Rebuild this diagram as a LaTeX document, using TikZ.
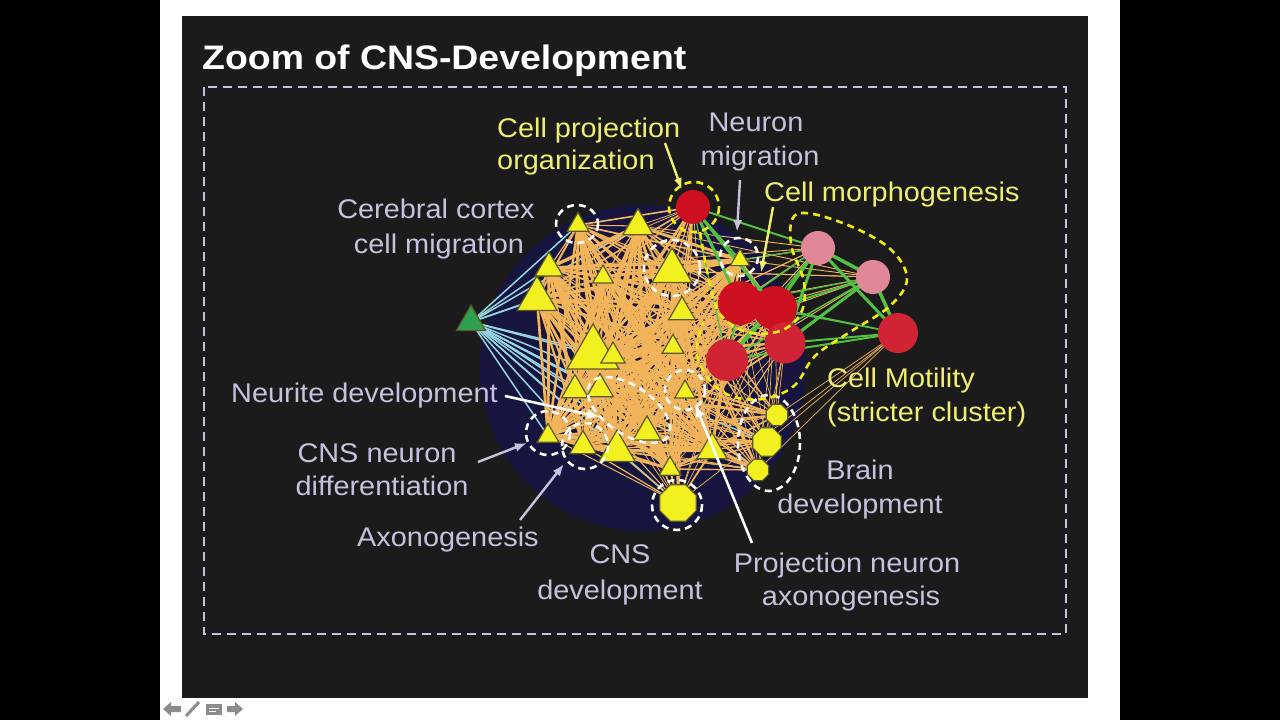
\documentclass[tikz,border=0pt]{standalone}
\usepackage{fontspec}
\setmainfont{Liberation Sans}
\newfontfamily\labfont[FakeStretch=1.07]{Liberation Sans}
\newfontfamily\titfont[FakeStretch=1.1]{Liberation Sans}
\usetikzlibrary{shapes.geometric,arrows.meta}
\pgfdeclarelayer{bg}
\pgfdeclarelayer{edges}
\pgfsetlayers{bg,edges,main}
\definecolor{cSlide}{HTML}{1B1B1B}
\definecolor{cBlob}{HTML}{15153F}
\definecolor{cLav}{HTML}{C6C2DE}
\definecolor{cYel}{HTML}{EEEE70}
\definecolor{cDashY}{HTML}{F2EA10}
\definecolor{cNodeY}{HTML}{F2F020}
\definecolor{cNodeE}{HTML}{5A5A28}
\definecolor{cOr}{HTML}{F2B45A}
\definecolor{cCy}{HTML}{96D6E2}
\definecolor{cGr}{HTML}{52C040}
\definecolor{cRed}{HTML}{CC1020}
\definecolor{cRedB}{HTML}{D02434}
\definecolor{cPink}{HTML}{E08898}
\definecolor{cGtri}{HTML}{2FA050}
\definecolor{cIcon}{HTML}{8C8C8C}
\begin{document}
\begin{tikzpicture}[x=1pt,y=-1pt,
  tri/.style={regular polygon,regular polygon sides=3,fill=cNodeY,draw=cNodeE,line width=1.2pt,inner sep=0pt,minimum size={1.4*#1}},
  octo/.style={regular polygon,regular polygon sides=8,fill=cNodeY,draw=cNodeE,line width=1.2pt,inner sep=0pt,minimum size={1.1*#1}},
  rdisc/.style={circle,fill=#1,inner sep=0pt},
  oedge/.style={draw=cOr},
  cedge/.style={draw=cCy,line width=1.5pt},
  gedge/.style={draw=cGr},
  wdash/.style={draw=white,line width=2.6pt,dash pattern=on 7pt off 5pt},
  ydash/.style={draw=cDashY,line width=2.6pt,dash pattern=on 7pt off 5pt},
  labl/.style={font=\labfont\fontsize{27}{33}\selectfont,text=cLav,inner sep=0pt},
  laby/.style={font=\labfont\fontsize{27}{33}\selectfont,text=cYel,inner sep=0pt},
  larrow/.style={draw=cLav,line width=2.4pt,-{Latex[length=12pt,width=9pt]}},
  yarrow/.style={draw=cYel,line width=2.4pt,-{Latex[length=12pt,width=8pt]}},
  warrow/.style={draw=white,line width=2.6pt,-{Latex[length=13pt,width=10pt]}}
]
\useasboundingbox (0,0) rectangle (1280,720);
\begin{pgfonlayer}{bg}
\fill[black] (0,0) rectangle (1280,720);
\fill[white] (160,0) rectangle (1120,720);
\fill[cSlide] (182,16) rectangle (1088,698);
\draw[cLav,line width=2.5pt,dash pattern=on 9pt off 6pt] (204,87) rectangle (1066,634);
\fill[cBlob] (643,368) circle[radius=163];
% navigation icons
\fill[cIcon] (163,709) -- (171,702) -- (171,706) -- (181,706) -- (181,712) -- (171,712) -- (171,716) -- cycle;
\draw[cIcon,line width=3pt] (186,716) -- (199,702);
\fill[cIcon] (206,704) rectangle (222,715);
\draw[white,line width=1pt] (209,708) -- (219,708) (209,711) -- (216,711);
\fill[cIcon] (243,709) -- (235,702) -- (235,706) -- (227,706) -- (227,712) -- (235,712) -- (235,716) -- cycle;
\end{pgfonlayer}

\node[anchor=base west,inner sep=0pt,text=white,font=\titfont\bfseries\fontsize{34}{40}\selectfont] (title) at (202,69) {Zoom of CNS-Development};

% nodes
\node[tri=24,fill=cGtri] (g) at (471,322) {};
\foreach \n/\x/\y/\w in {t1/578/225/18,t2/638/226/25,t3/549/268/23,t4/603/277/17,t5/672/271/33,
  t6/537/299/33,t7/682/312/22,t8/593/354/43,t9/613/356/20,t10/673/347/18,t11/575/390/22,
  t12/600/389/22,t13/685/392/17,t14/548/436/18,t15/583/446/22,t16/617/451/30,t17/647/432/23,
  t18/712/450/25,t19/670/469/18,t20/740/260/16}
  \node[tri=\w] (\n) at (\x,\y) {};
\foreach \n/\x/\y/\w in {o1/678/503/36,o2/767/442/28,o3/777/415/21,o4/758/470/21}
  \node[octo=\w] (\n) at (\x,\y) {};
\node[rdisc=cRed,minimum size=34pt] (r1) at (693,207) {};
\node[rdisc=cRed,minimum size=44pt] (r3) at (775,308) {};
\node[rdisc=cRed,minimum size=44pt] (r2) at (740,303) {};
\node[rdisc=cRedB,minimum size=41pt] (r4) at (785,343) {};
\node[rdisc=cRedB,minimum size=42pt] (r5) at (727,360) {};
\node[rdisc=cRedB,minimum size=40pt] (r6) at (898,333) {};
\node[rdisc=cPink,minimum size=34pt] (p1) at (818,248) {};
\node[rdisc=cPink,minimum size=34pt] (p2) at (873,277) {};

% edges
\begin{pgfonlayer}{edges}
\pgfmathsetseed{7}
\foreach \t in {t1,t3,t6,t8,t11,t12,t14,t15,t16,t17,t19,o1,o2,o4,t4,t9,t2,t18}
  \draw[cedge] (g.center) -- (\t.center);
\foreach \r in {r1,r2,r3,r4,r5}{
  \foreach \k in {1,...,20}{
    \pgfmathsetmacro\lw{0.6+1.2*rnd}
    \draw[oedge,line width=\lw pt] (\r.center) -- (t\k.center);}}
\foreach \o in {o1,o2,o3,o4}{
  \foreach \k in {5,7,8,9,10,11,12,13,14,15,16,17,18,19}{
    \pgfmathsetmacro\lw{0.7+1.3*rnd}
    \draw[oedge,line width=\lw pt] (\o.center) -- (t\k.center);}
  \foreach \r in {r2,r3,r4,r5,r6}
    \draw[oedge,line width=0.7pt] (\o.center) -- (\r.center);}
\foreach \p in {p1,p2}{
  \foreach \t in {t2,t5,t7,t10,t13,t20,t3,t8}
    \draw[oedge,line width=0.9pt] (\p.center) -- (\t.center);}
\foreach \i in {1,...,20}{
  \foreach \j in {1,...,20}{
    \ifnum\i<\j
      \pgfmathsetmacro\lw{1.0+2.4*rnd}
      \draw[oedge,line width=\lw pt] (t\i.center) -- (t\j.center);
    \fi}}
\foreach \a/\b/\w in {r1/r2/3,r1/r3/3,r1/p1/2,r1/t20/1.5,r2/p1/1.5,r3/p1/3,r3/p2/2,r4/p1/3,
  r4/p2/3,r4/r6/2,r3/r6/1.5,r2/r6/1.2,p1/p2/3.5,p1/r6/3,p2/r6/3.5,r5/r3/3,r5/r2/2,r5/p1/1.5,
  r5/r6/2,r2/p2/1.2,r1/r5/1.2,t20/p1/1.2,r5/p2/1.5}
  \draw[gedge,line width=\w pt] (\a.center) -- (\b.center);
\end{pgfonlayer}

% dashed groupings
\draw[wdash] (577,224) ellipse[x radius=21,y radius=19];
\draw[wdash] (672,268) circle[radius=28];
\draw[wdash] (739,257) circle[radius=19];
\draw[wdash] (685,390) circle[radius=20];
\draw[wdash,rotate around={-34:(629,410)}] (629,410) ellipse[x radius=47,y radius=24];
\draw[wdash] (548,433) circle[radius=22];
\draw[wdash] (585,446) circle[radius=23];
\draw[wdash] (677,505) circle[radius=25];
\draw[wdash] (769,443) ellipse[x radius=31,y radius=48];
\draw[ydash] (694,207) circle[radius=25];
\draw[ydash] plot[smooth,tension=0.6] coordinates {(700,232) (709,280) (720,314) (747,332) (780,331) (801,313) (804,282) (791,244) (797,214) (840,222) (888,247) (907,278) (890,306) (850,332) (815,356) (795,385) (768,398) (738,398) (714,385) (697,355) (703,322)};

% labels
\node[laby,anchor=base west] (lcp1) at (497,137) {Cell projection};
\node[laby,anchor=base west] (lcp2) at (497,169) {organization};
\node[labl,anchor=base] (lnm1) at (756,131) {Neuron};
\node[labl,anchor=base] (lnm2) at (760,165) {migration};
\node[laby,anchor=base west] (lcm) at (764,201) {Cell morphogenesis};
\node[labl,anchor=base] (lcc1) at (436,218) {Cerebral cortex};
\node[labl,anchor=base] (lcc2) at (439,253) {cell migration};
\node[labl,anchor=base west] (lnd) at (231,402) {Neurite development};
\node[labl,anchor=base] (lcn1) at (377,462) {CNS neuron};
\node[labl,anchor=base] (lcn2) at (382,495) {differentiation};
\node[labl,anchor=base west] (lax) at (357,546) {Axonogenesis};
\node[labl,anchor=base] (lcd1) at (620,563) {CNS};
\node[labl,anchor=base] (lcd2) at (620,599) {development};
\node[labl,anchor=base] (lpn1) at (847,572) {Projection neuron};
\node[labl,anchor=base] (lpn2) at (851,605) {axonogenesis};
\node[labl,anchor=base] (lbd1) at (860,479) {Brain};
\node[labl,anchor=base] (lbd2) at (860,513) {development};
\node[laby,anchor=base west] (lmo1) at (827,387) {Cell Motility};
\node[laby,anchor=base west] (lmo2) at (827,421) {(stricter cluster)};

% arrows
\coordinate (aCPs) at (665,143); \coordinate (aCPe) at (682,190);
\coordinate (aNMs) at (740,180); \coordinate (aNMe) at (737,232);
\coordinate (aCMs) at (773,207); \coordinate (aCMe) at (761,273);
\coordinate (aNDs) at (505,396); \coordinate (aNDe) at (600,417);
\coordinate (aCNs) at (478,462); \coordinate (aCNe) at (527,443);
\coordinate (aAXs) at (520,520); \coordinate (aAXe) at (564,464);
\coordinate (aPNs) at (752,543); \coordinate (aPNe) at (695,404);
\draw[yarrow] (aCPs) -- (aCPe);
\draw[larrow] (aNMs) -- (aNMe);
\draw[yarrow] (aCMs) -- (aCMe);
\draw[warrow] (aNDs) -- (aNDe);
\draw[larrow] (aCNs) -- (aCNe);
\draw[larrow] (aAXs) -- (aAXe);
\draw[warrow] (aPNs) -- (aPNe);
\end{tikzpicture}
\end{document}
